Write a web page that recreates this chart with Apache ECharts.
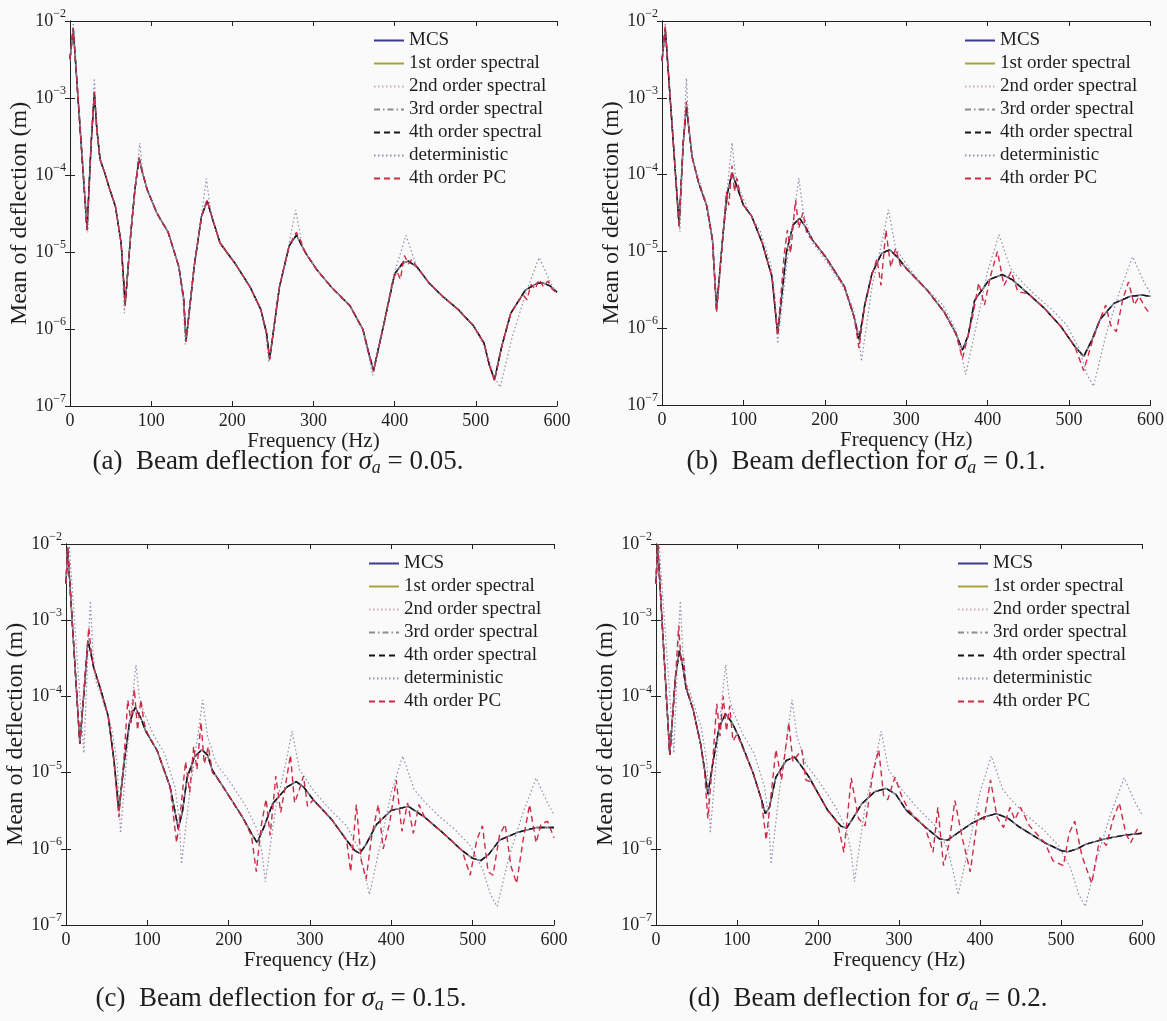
<!DOCTYPE html>
<html>
<head>
<meta charset="utf-8">
<script src="https://cdn.jsdelivr.net/npm/echarts@6/dist/echarts.min.js"></script>
<style>
html,body{margin:0;padding:0;background:#fafafa;}
#c{width:1167px;height:1021px;}
</style>
</head>
<body>
<div id="c"></div>
<script>
// ---------------- data ----------------
const seriesNames = ['MCS','1st order spectral','2nd order spectral','3rd order spectral','4th order spectral','deterministic','4th order PC'];
const xTicks = [0,100,200,300,400,500,600];
const captionTexts = [
  ['(a)', '0.05.'], ['(b)', '0.1.'], ['(c)', '0.15.'], ['(d)', '0.2.']
];

// deterministic response (same in every panel) [Hz, m]
const detCurve = [
[0,3.0e-3],[4,9.5e-3],[22,1.8e-5],[27,4e-4],[30,1.8e-3],[33,4e-4],[37,1.55e-4],[43,1.05e-4],[48,7e-5],[56,3.9e-5],[63,1.3e-5],[67,1.6e-6],[75,1.8e-5],[81,8e-5],[86,2.6e-4],[90,1e-4],[95,6.5e-5],[107,3.2e-5],[121,1.8e-5],[134,6.5e-6],[139,2.5e-6],[142,6.3e-7],[153,6.5e-6],[162,3e-5],[168,9e-5],[174,3e-5],[185,1.3e-5],[203,7.2e-6],[222,3.5e-6],[235,1.8e-6],[241,9e-7],[245,3.7e-7],[258,3.5e-6],[270,1.3e-5],[278,3.5e-5],[287,1.1e-5],[304,5.9e-6],[322,3.5e-6],[345,2e-6],[360,1e-6],[367,5e-7],[373,2.5e-7],[387,1.2e-6],[400,5.5e-6],[414,1.65e-5],[428,6e-6],[442,4e-6],[460,2.6e-6],[478,1.8e-6],[497,1.1e-6],[512,5.5e-7],[522,2.5e-7],[530,1.75e-7],[545,8e-7],[562,3e-6],[578,8.5e-6],[592,4e-6],[600,2.8e-6]
];

// panel (a) sigma = 0.05
const meanA = [
[0,3.2e-3],[4,8e-3],[21,1.95e-5],[26,2.5e-4],[30,1.17e-3],[33,4e-4],[37,1.6e-4],[43,1.05e-4],[48,7e-5],[56,3.9e-5],[63,1.3e-5],[68,2.1e-6],[75,1.8e-5],[80,6.5e-5],[85,1.65e-4],[89,1.1e-4],[95,6.5e-5],[107,3.2e-5],[121,1.8e-5],[134,6.5e-6],[140,2.5e-6],[143,7e-7],[153,6.5e-6],[162,2.9e-5],[169,4.6e-5],[176,2.6e-5],[185,1.3e-5],[203,7.2e-6],[222,3.5e-6],[235,1.8e-6],[242,9e-7],[246,4.1e-7],[258,3.5e-6],[270,1.2e-5],[279,1.66e-5],[290,9.8e-6],[304,5.9e-6],[322,3.5e-6],[345,2e-6],[361,9.8e-7],[368,4.9e-7],[374,2.9e-7],[387,1.2e-6],[400,5.2e-6],[410,7.2e-6],[417,7.6e-6],[428,6.3e-6],[442,4e-6],[460,2.6e-6],[478,1.8e-6],[497,1.1e-6],[510,6.6e-7],[517,3.3e-7],[523,2.2e-7],[532,6e-7],[543,1.6e-6],[561,3.2e-6],[575,3.9e-6],[582,4e-6],[592,3.6e-6],[600,3e-6]
];
const pcA = [
[0,3.2e-3],[4,8.2e-3],[21,1.9e-5],[26,2.6e-4],[30,1.2e-3],[33,4e-4],[37,1.6e-4],[43,1.05e-4],[48,7e-5],[56,3.9e-5],[63,1.3e-5],[68,2e-6],[75,1.8e-5],[80,6.5e-5],[85,1.7e-4],[89,1.1e-4],[95,6.5e-5],[107,3.2e-5],[121,1.8e-5],[134,6.5e-6],[140,2.5e-6],[143,6.8e-7],[153,6.5e-6],[162,2.9e-5],[169,4.8e-5],[176,2.6e-5],[185,1.3e-5],[203,7.2e-6],[222,3.5e-6],[235,1.8e-6],[242,9e-7],[246,4e-7],[258,3.5e-6],[270,1.2e-5],[276,1.6e-5],[279,1.8e-5],[284,1.4e-5],[290,9.8e-6],[304,5.9e-6],[322,3.5e-6],[345,2e-6],[361,9.8e-7],[368,4.9e-7],[374,2.8e-7],[387,1.2e-6],[398,4.5e-6],[403,5.6e-6],[407,4.4e-6],[412,9e-6],[417,7e-6],[421,8e-6],[428,6.3e-6],[442,4e-6],[460,2.6e-6],[478,1.8e-6],[497,1.1e-6],[510,6.6e-7],[517,3.3e-7],[523,2.1e-7],[532,6e-7],[543,1.6e-6],[558,2.8e-6],[563,2.4e-6],[568,3.8e-6],[573,3.3e-6],[578,4.4e-6],[583,3.6e-6],[589,4.2e-6],[594,3.3e-6],[600,2.9e-6]
];

// panel (b) sigma = 0.1
const meanB = [
[0,3e-3],[4,8e-3],[21,2.2e-5],[26,2.5e-4],[30,7.8e-4],[33,4e-4],[37,1.7e-4],[45,7.8e-5],[55,3.9e-5],[62,1.4e-5],[67,1.8e-6],[75,1.7e-5],[80,5.5e-5],[86,1.05e-4],[92,7e-5],[100,4e-5],[110,2.9e-5],[123,1.3e-5],[135,4.7e-6],[142,8.5e-7],[153,1e-5],[161,2.2e-5],[169,2.7e-5],[176,2.1e-5],[185,1.4e-5],[201,8.5e-6],[224,3.5e-6],[236,1.4e-6],[242,7e-7],[249,2e-6],[258,5.2e-6],[270,9.5e-6],[280,1.05e-5],[290,8.2e-6],[300,6e-6],[325,3.2e-6],[347,1.6e-6],[361,8.5e-7],[369,5.2e-7],[376,8e-7],[384,2.3e-6],[402,4.3e-6],[418,5e-6],[430,4.3e-6],[450,2.8e-6],[470,1.8e-6],[490,1.05e-6],[507,5.8e-7],[518,4.3e-7],[528,7e-7],[538,1.3e-6],[555,2.1e-6],[575,2.6e-6],[590,2.7e-6],[600,2.6e-6]
];
const pcB = [
[0,3e-3],[4,8.5e-3],[21,2e-5],[26,2.6e-4],[30,9e-4],[33,4.2e-4],[37,1.7e-4],[45,7.8e-5],[55,3.9e-5],[62,1.4e-5],[67,1.6e-6],[75,1.6e-5],[79,6e-5],[82,4e-5],[86,1.3e-4],[89,6e-5],[92,9e-5],[96,5.5e-5],[100,4e-5],[110,2.9e-5],[123,1.3e-5],[135,4.7e-6],[142,8e-7],[150,9e-6],[154,1.9e-5],[158,9.5e-6],[164,4.7e-5],[168,2e-5],[173,3.2e-5],[178,1.7e-5],[185,1.4e-5],[201,8.5e-6],[224,3.5e-6],[236,1.4e-6],[242,5.5e-7],[249,2e-6],[258,5e-6],[264,8e-6],[269,3.6e-6],[275,1.9e-5],[281,6.2e-6],[287,1.1e-5],[293,6.5e-6],[300,6e-6],[325,3.2e-6],[347,1.6e-6],[361,8.5e-7],[369,4e-7],[376,8e-7],[382,1.5e-6],[389,3.9e-6],[396,2e-6],[404,5e-6],[412,1e-5],[420,3.6e-6],[429,5.5e-6],[437,3e-6],[450,2.8e-6],[470,1.8e-6],[490,1.05e-6],[507,5.8e-7],[518,2.8e-7],[528,6.5e-7],[538,1.3e-6],[545,2e-6],[551,1.1e-6],[558,9e-7],[566,2.4e-6],[573,4e-6],[580,2e-6],[586,2.6e-6],[593,1.9e-6],[600,1.5e-6]
];

// panel (c) sigma = 0.15
const meanC = [
[0,3e-3],[2,9e-3],[17,2.4e-5],[23,1.5e-4],[27,5.4e-4],[31,3.5e-4],[34,2.4e-4],[43,1.2e-4],[52,5.4e-5],[59,1.45e-5],[65,3.2e-6],[72,1.5e-5],[78,4.5e-5],[85,7.2e-5],[92,5.2e-5],[98,3.5e-5],[112,1.95e-5],[128,6.5e-6],[138,1.85e-6],[143,3e-6],[149,8.7e-6],[158,1.6e-5],[167,2e-5],[174,1.7e-5],[180,1.07e-5],[199,5.2e-6],[217,2.6e-6],[228,1.6e-6],[235,1.2e-6],[244,2e-6],[254,3.9e-6],[272,6.5e-6],[283,7.6e-6],[292,6.5e-6],[304,4.4e-6],[327,2.4e-6],[345,1.3e-6],[355,9.5e-7],[361,8.7e-7],[368,1.1e-6],[382,2.1e-6],[400,3.2e-6],[421,3.6e-6],[441,2.6e-6],[464,1.6e-6],[487,9.5e-7],[500,7.5e-7],[510,7e-7],[520,8.5e-7],[533,1.3e-6],[556,1.65e-6],[578,1.9e-6],[600,1.9e-6]
];
const pcC = [
[0,3e-3],[2,9e-3],[17,2.4e-5],[23,1.6e-4],[28,8e-4],[31,3.8e-4],[34,2.4e-4],[43,1.2e-4],[52,5.4e-5],[59,1.4e-5],[65,2.6e-6],[71,1.4e-5],[76,9e-5],[80,4.5e-5],[84,1.25e-4],[88,3.6e-5],[92,9e-5],[96,4.5e-5],[100,3.3e-5],[112,1.95e-5],[128,6.5e-6],[136,1.2e-6],[141,3.2e-6],[147,1.4e-5],[152,5.5e-6],[157,2.2e-5],[161,1.1e-5],[166,4.6e-5],[170,1.3e-5],[175,2.2e-5],[180,1e-5],[186,8.5e-6],[199,5.2e-6],[217,2.6e-6],[228,1.5e-6],[234,5e-7],[240,2e-6],[246,4.5e-6],[251,1.5e-6],[258,9e-6],[264,3e-6],[270,7e-6],[276,1.7e-5],[281,4e-6],[287,6e-6],[292,9e-6],[297,3.6e-6],[304,4.4e-6],[327,2.4e-6],[345,1.3e-6],[350,5e-7],[357,3.8e-6],[363,7e-7],[369,4e-7],[376,1.5e-6],[384,3.8e-6],[390,1e-6],[398,2.2e-6],[406,8e-6],[413,1.7e-6],[420,4e-6],[427,1.6e-6],[434,3.8e-6],[441,2.6e-6],[464,1.6e-6],[487,9.5e-7],[497,4.5e-7],[505,1.3e-6],[512,2e-6],[519,5e-7],[525,4.5e-7],[533,1.5e-6],[540,2.1e-6],[547,6e-7],[554,3.5e-7],[562,1.3e-6],[570,3.8e-6],[578,1.2e-6],[584,2.1e-6],[592,2.3e-6],[600,1.4e-6]
];

// panel (d) sigma = 0.2
const meanD = [
[0,3e-3],[2,1e-2],[17,1.7e-5],[24,1.8e-4],[29,4e-4],[33,2.5e-4],[37,1.3e-4],[46,6.6e-5],[55,2.4e-5],[60,1.1e-5],[64,5.2e-6],[70,1.3e-5],[78,4e-5],[86,5.9e-5],[94,4.5e-5],[102,3e-5],[120,9.8e-6],[130,4.5e-6],[135,2.9e-6],[140,3.5e-6],[148,8.7e-6],[161,1.45e-5],[171,1.6e-5],[180,1.2e-5],[189,8.7e-6],[212,3.2e-6],[228,2e-6],[235,1.85e-6],[244,2.6e-6],[254,3.9e-6],[270,5.6e-6],[284,6.2e-6],[296,5.2e-6],[309,3.2e-6],[332,1.95e-6],[350,1.35e-6],[360,1.3e-6],[372,1.6e-6],[388,2.1e-6],[405,2.6e-6],[420,2.9e-6],[435,2.5e-6],[448,1.95e-6],[480,1.2e-6],[500,9.5e-7],[508,9.1e-7],[520,1e-6],[531,1.15e-6],[554,1.35e-6],[577,1.5e-6],[600,1.6e-6]
];
const pcD = [
[0,3e-3],[2,1e-2],[17,1.7e-5],[25,2.5e-4],[28,8.5e-4],[31,2.8e-4],[34,3.2e-4],[37,1.4e-4],[46,6.6e-5],[55,2.4e-5],[60,1e-5],[64,2.5e-6],[70,1.4e-5],[75,8e-5],[79,3e-5],[83,1e-4],[87,3.5e-5],[91,7.5e-5],[95,2.6e-5],[100,3.2e-5],[120,9.8e-6],[130,4.5e-6],[136,1.3e-6],[142,5e-6],[148,2e-5],[155,8e-6],[164,4.5e-5],[169,1.4e-5],[180,2e-5],[185,8e-6],[192,7.5e-6],[212,3.2e-6],[224,2.2e-6],[232,9e-7],[241,8.5e-6],[250,2.5e-6],[258,2e-6],[268,1e-5],[275,2e-5],[281,5e-6],[286,4.4e-6],[295,8.7e-6],[303,5e-6],[312,3.2e-6],[332,1.95e-6],[342,9e-7],[348,3.5e-6],[355,6e-7],[362,1.2e-6],[369,4.3e-6],[378,1.4e-6],[388,5e-7],[398,3e-6],[405,2.4e-6],[413,8e-6],[421,2.6e-6],[429,1.9e-6],[437,3.5e-6],[443,2.4e-6],[450,3.5e-6],[461,2e-6],[480,1.2e-6],[490,7e-7],[503,6e-7],[510,1.6e-6],[517,2.3e-6],[526,8e-7],[538,3.5e-7],[548,1.4e-6],[556,1.1e-6],[564,2.4e-6],[572,4e-6],[580,1.6e-6],[586,1.2e-6],[594,1.8e-6],[600,1.6e-6]
];

// --------------- layout / style ---------------
const FONT = 'Liberation Serif';
const TXT = '#1e1e1e';
const panels = [
  {grid:{left:70, top:21, width:487, height:385}, mean:meanA, pc:pcA, legend:{left:373, top:31}, nameGap:36, cap:{x:278, y:462}},
  {grid:{left:662, top:21, width:489, height:384}, mean:meanB, pc:pcB, legend:{left:964, top:31}, nameGap:38, cap:{x:866, y:462}},
  {grid:{left:66, top:544, width:488, height:381}, mean:meanC, pc:pcC, legend:{left:368, top:554}, nameGap:32, cap:{x:281, y:999}},
  {grid:{left:656, top:544, width:486, height:381}, mean:meanD, pc:pcD, legend:{left:957, top:554}, nameGap:32, cap:{x:868, y:999}}
];
const lineStyles = {
  'MCS':                {color:'#3a3a92', type:'solid', width:1.4, z:3},
  '1st order spectral': {color:'#a6a23c', type:'solid', width:1.4, z:2},
  '2nd order spectral': {color:'#c6a9b8', type:[1.5,2.5], width:1.2, z:4},
  '3rd order spectral': {color:'#8c8c8c', type:[6,3,1.5,3], width:1.2, z:5},
  '4th order spectral': {color:'#141414', type:[6,4], width:1.4, z:6},
  'deterministic':      {color:'#8d8daa', type:[1.5,2.5], width:1.2, z:7},
  '4th order PC':       {color:'#cc2a46', type:[6,4], width:1.4, z:8}
};

const grids = [], xAxes = [], yAxes = [], series = [], legends = [], graphics = [];
panels.forEach((p, i) => {
  grids.push(Object.assign({containLabel:false}, p.grid));
  const axLine = {show:true, lineStyle:{color:'#222', width:1}};
  xAxes.push({
    type:'value', gridIndex:i, min:0, max:600, interval:100, position:'bottom',
    axisLine:axLine, axisTick:{show:true, inside:true, length:5, lineStyle:{color:'#222'}},
    splitLine:{show:false},
    axisLabel:{show:true, margin:6, fontFamily:FONT, fontSize:18, color:TXT},
    name:'Frequency (Hz)', nameLocation:'middle', nameGap:21,
    nameTextStyle:{fontFamily:FONT, fontSize:21, color:TXT}
  });
  xAxes.push({
    type:'value', gridIndex:i, min:0, max:600, interval:100, position:'top',
    axisLine:axLine, axisTick:{show:true, inside:true, length:5, lineStyle:{color:'#222'}},
    splitLine:{show:false}, axisLabel:{show:false}
  });
  yAxes.push({
    type:'log', logBase:10, gridIndex:i, min:1e-7, max:1e-2, position:'left',
    axisLine:axLine, axisTick:{show:true, inside:true, length:5, lineStyle:{color:'#222'}},
    splitLine:{show:false}, minorTick:{show:false},
    axisLabel:{
      show:true, margin:4,
      formatter: v => '{b|10}{s|\u2212' + (-Math.round(Math.log10(v))) + '}',
      rich:{
        b:{fontFamily:FONT, fontSize:18, color:TXT, lineHeight:26},
        s:{fontFamily:FONT, fontSize:12, color:TXT, lineHeight:12, verticalAlign:'top'}
      }
    },
    name:'Mean of deflection (m)', nameLocation:'middle', nameGap:p.nameGap, nameRotate:90,
    nameTextStyle:{fontFamily:FONT, fontSize:24, color:TXT}
  });
  yAxes.push({
    type:'log', logBase:10, gridIndex:i, min:1e-7, max:1e-2, position:'right',
    axisLine:axLine, axisTick:{show:true, inside:true, length:5, lineStyle:{color:'#222'}},
    splitLine:{show:false}, axisLabel:{show:false}
  });
  seriesNames.forEach(name => {
    const st = lineStyles[name];
    const data = name === 'deterministic' ? detCurve : (name === '4th order PC' ? p.pc : p.mean);
    series.push({
      type:'line', name, xAxisIndex:2*i, yAxisIndex:2*i, data,
      symbol:'none', showSymbol:false, smooth:false, z:st.z, silent:true,
      lineStyle:{color:st.color, type:st.type, width:st.width},
      itemStyle:{color:st.color}
    });
  });
  legends.push({
    left:p.legend.left, top:p.legend.top, orient:'vertical', padding:0,
    itemWidth:30, itemHeight:12, itemGap:4, selectedMode:false,
    itemStyle:{opacity:0, borderWidth:0},
    textStyle:{fontFamily:FONT, fontSize:19, color:TXT},
    data:seriesNames.map(n => ({name:n}))
  });
  graphics.push({
    type:'text', x:p.cap.x, y:p.cap.y, silent:true,
    style:{
      text: captionTexts[i][0] + '  Beam deflection for {i|\u03C3}{sub|a} = ' + captionTexts[i][1],
      fontFamily:FONT, fontSize:27, fill:TXT, lineHeight:30,
      align:'center', verticalAlign:'middle', textAlign:'center', textVerticalAlign:'middle',
      rich:{
        i:{fontFamily:FONT, fontSize:27, fontStyle:'italic', fill:TXT, lineHeight:30},
        sub:{fontFamily:FONT, fontSize:18, fontStyle:'italic', fill:TXT, lineHeight:15, verticalAlign:'bottom'}
      }
    }
  });
});

const chart = echarts.init(document.getElementById('c'), null, {renderer:'canvas'});
chart.setOption({
  backgroundColor:'#fafafa',
  animation:false,
  grid:grids, xAxis:xAxes, yAxis:yAxes, series, legend:legends, graphic:graphics
});
</script>
</body>
</html>
